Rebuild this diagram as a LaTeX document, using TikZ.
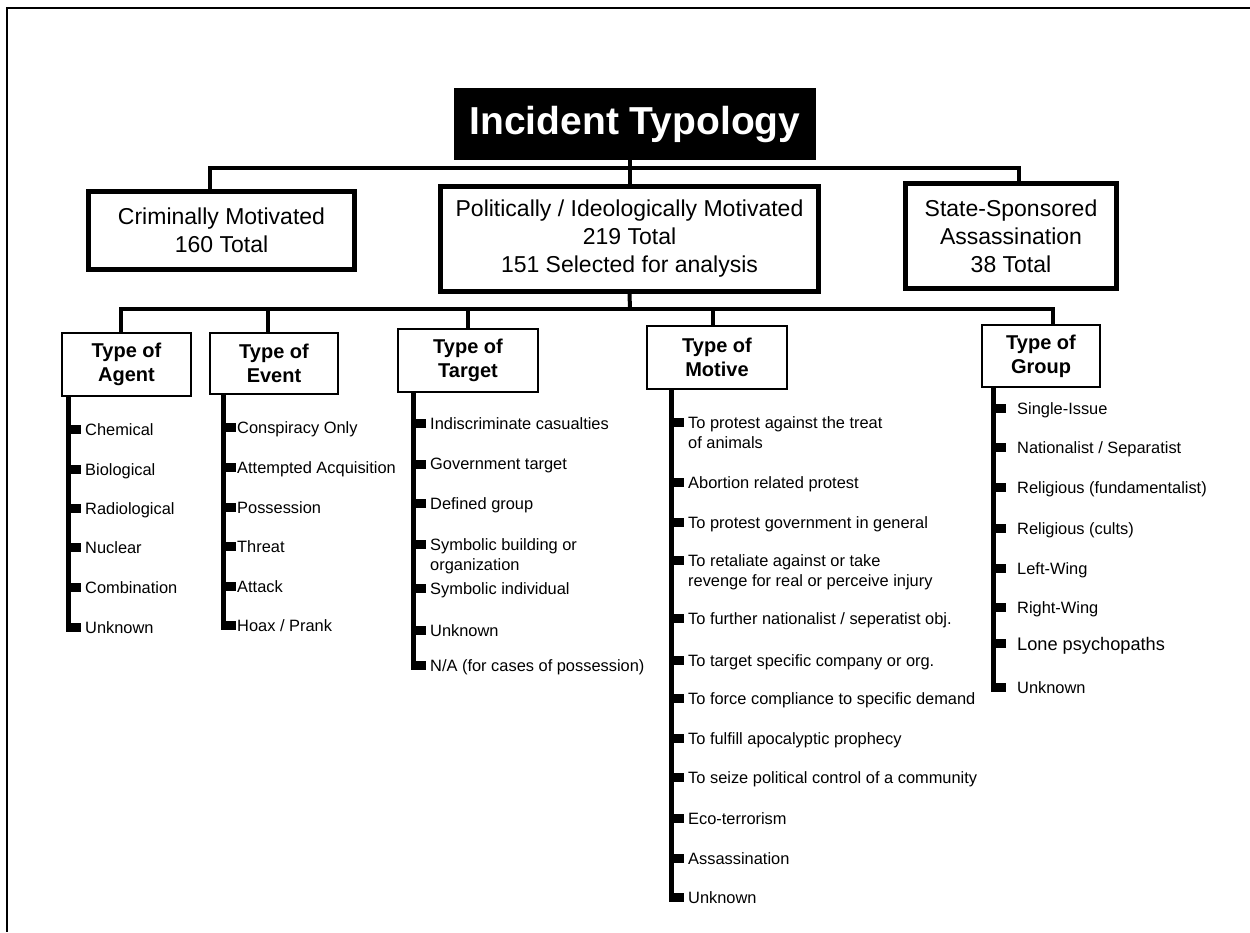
\documentclass[tikz,border=0pt]{standalone}
\usepackage{fontspec}
\setmainfont{Liberation Sans}
\tikzset{
  headbox/.style={fill=black, text=white, font=\fontsize{39}{44}\selectfont\bfseries,
    minimum width=362pt, minimum height=72pt, inner sep=0pt},
  classbox/.style={draw, line width=3.5pt, fill=white, align=center,
    font=\fontsize{23}{28}\selectfont, inner sep=0pt},
  innerline/.style={line width=1pt},
  typebox/.style={draw, line width=2pt, fill=white, align=center,
    font=\fontsize{20}{24}\selectfont\bfseries, inner sep=0pt},
  bar/.style={line width=4pt},
  stem/.style={line width=5pt},
  tick/.style={fill=black, minimum width=13pt, minimum height=9pt, inner sep=0pt, anchor=west},
  item/.style={anchor=north west, inner sep=0pt, align=left, font=\fontsize{16.4}{20}\selectfont},
}
\begin{document}
\begin{tikzpicture}[x=1pt, y=-1pt]
    \useasboundingbox (0,0) rectangle (1250,932);
    % Page frame
    \draw[line width=2.5pt] (1250,8) -- (7,8) -- (7,932);

    % Title
    \node[headbox] (title) at (635,124) {Incident Typology};

    % Incident classes
    \node[classbox, minimum width=267pt, minimum height=79pt] (crim) at (221.5,230.5)
        {Criminally Motivated\\160 Total};
    \node[classbox, minimum width=379pt, minimum height=106pt] (pol) at (629.5,239)
        {Politically / Ideologically Motivated\\219 Total\\151 Selected for analysis};
    \node[classbox, minimum width=212pt, minimum height=106pt] (state) at (1011,236)
        {State-Sponsored\\Assassination\\38 Total};
    \foreach \n in {crim,pol,state}
        \draw[innerline] ([shift={(4.5,4.5)}]\n.north west) rectangle ([shift={(-4.5,-4.5)}]\n.south east);

    % Type boxes
    \node[typebox, minimum width=129pt, minimum height=63pt] (agent) at (126.5,364.5) {Type of\\Agent};
    \node[typebox, minimum width=128pt, minimum height=61pt] (event) at (274,363.5) {Type of\\Event};
    \node[typebox, minimum width=140pt, minimum height=63pt] (target) at (468,360.5) {Type of\\Target};
    \node[typebox, minimum width=140pt, minimum height=63pt] (motive) at (717,357.5) {Type of\\Motive};
    \node[typebox, minimum width=118pt, minimum height=62pt] (group) at (1041,356) {Type of\\Group};

    % Tree connectors
    \coordinate (hub1) at (630,168);
    \draw[bar] ([xshift=-12pt]crim.north) |- (hub1) -| ([xshift=8pt]state.north);
    \draw[bar] (title.south -| pol.north) -- (pol.north);
    \coordinate (hub2) at (630,309);
    \draw[bar] (pol.south) -- (hub2);
    \draw[bar] ([xshift=-6pt]agent.north) |- (hub2) -| ([xshift=12pt]group.north);
    \foreach \n/\s in {event/-6, target/0, motive/-4}
        \draw[bar] ([xshift=\s pt]\n.north) |- (hub2);

    % Agent list
    \foreach \y/\t [count=\i] in {429/Chemical, 469/Biological, 508/Radiological,
        547/Nuclear, 587/Combination, 627/Unknown} {
        \node[tick] (ag\i) at (68,\y) {};
        \node[item] (agt\i) at (85,\y-6) {\t};
    }
    \draw[stem] (agent.south -| ag1.west) -- (ag6.south west);

    % Event list
    \foreach \y/\t [count=\i] in {427/Conspiracy Only, 467/Attempted Acquisition, 507/Possession,
        546/Threat, 586/Attack, 625/{Hoax / Prank}} {
        \node[tick] (ev\i) at (223,\y) {};
        \node[item] (evt\i) at (237,\y-6) {\t};
    }
    \draw[stem] (event.south -| ev1.west) -- (ev6.south west);

    % Target list
    \foreach \y/\t [count=\i] in {423/Indiscriminate casualties, 464/Government target,
        503/Defined group, 544/{Symbolic building or\\organization}, 588/Symbolic individual,
        630/Unknown, 665/{N/A (for cases of possession)}} {
        \node[tick] (ta\i) at (413,\y) {};
        \node[item] (tat\i) at (430,\y-6) {\t};
    }
    \draw[stem] (target.south -| ta1.west) -- (ta7.south west);

    % Motive list
    \foreach \y/\t [count=\i] in {422/{To protest against the treat\\of animals},
        482/Abortion related protest, 522/To protest government in general,
        560/{To retaliate against or take\\revenge for real or perceive injury},
        618/{To further nationalist / seperatist obj.}, 660/To target specific company or org.,
        698/To force compliance to specific demand, 738/To fulfill apocalyptic prophecy,
        777/To seize political control of a community, 818/Eco-terrorism,
        858/Assassination, 897/Unknown} {
        \node[tick] (mo\i) at (671,\y) {};
        \node[item] (mot\i) at (688,\y-6) {\t};
    }
    \draw[stem] (motive.south -| mo1.west) -- (mo12.south west);

    % Group list
    \foreach \y/\t [count=\i] in {408/Single-Issue, 447/{Nationalist / Separatist},
        487/Religious (fundamentalist), 528/Religious (cults), 568/Left-Wing, 607/Right-Wing,
        643/{\fontsize{18.2}{22}\selectfont Lone psychopaths}, 687/Unknown} {
        \node[tick] (gr\i) at (993,\y) {};
        \node[item] (grt\i) at (1017,\y-6) {\t};
    }
    \draw[stem] (group.south -| gr1.west) -- (gr8.south west);
\end{tikzpicture}
\end{document}
